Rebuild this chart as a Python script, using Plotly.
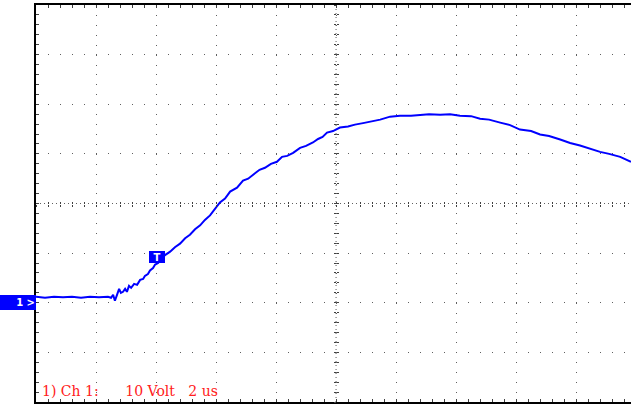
import plotly.graph_objects as go

# Time (us) and voltage (V); ground marker at 0 V
t_us = [0.0, 0.3, 0.6, 0.9, 1.2, 1.5, 1.8, 2.1, 2.4, 2.5, 2.57, 2.63, 2.7, 2.77, 2.83, 2.9,
        2.97, 3.03, 3.1, 3.17, 3.27, 3.37, 3.47, 3.57, 3.63, 3.73, 3.8, 3.9, 3.97, 4.07,
        4.13, 4.3, 4.47, 4.63, 4.8, 4.97, 5.13, 5.3, 5.47, 5.63, 5.8, 5.97, 6.13, 6.3,
        6.47, 6.7, 6.9, 7.07, 7.23, 7.45, 7.63, 7.83, 8.03, 8.2, 8.37, 8.57, 8.8, 9.0,
        9.23, 9.4, 9.55, 9.7, 9.9, 10.13, 10.4, 10.63, 10.9, 11.2, 11.47, 11.8, 12.13,
        12.5, 12.8, 13.1, 13.47, 13.8, 14.13, 14.5, 14.8, 15.1, 15.47, 15.8, 16.13, 16.5,
        16.8, 17.1, 17.47, 17.8, 18.13, 18.5, 18.8, 19.1, 19.47, 19.83]
volts = [1.2, 1.0, 1.2, 1.1, 1.2, 1.0, 1.2, 1.1, 1.2, 1.0, 1.6, 0.4, 1.6, 2.8, 2.0, 2.2,
         2.8, 2.2, 3.4, 3.0, 3.8, 3.6, 4.6, 4.8, 5.4, 5.8, 6.5, 7.0, 7.7, 8.0,
         8.5, 9.6, 10.3, 11.2, 11.9, 13.0, 13.7, 14.8, 15.6, 16.7, 17.6, 19.0, 20.2, 21.0,
         22.4, 23.2, 24.6, 25.0, 25.8, 26.8, 27.2, 28.0, 28.4, 29.4, 29.6, 30.2, 31.2, 31.6,
         32.3, 33.0, 33.4, 34.3, 34.6, 35.3, 35.5, 35.9, 36.2, 36.6, 36.9, 37.5, 37.7,
         37.7, 37.9, 38.0, 37.9, 38.0, 37.7, 37.6, 37.1, 36.9, 36.3, 35.8, 34.9, 34.6,
         33.9, 33.6, 32.9, 32.2, 31.7, 31.0, 30.4, 30.0, 29.4, 28.4]

x_max = 19.83          # visible time span (us)
x_center = 10.0        # centre graticule (us)
y_range = [-20, 60]    # 8 divisions of 10 V
y_center = 20.0
trigger_t, trigger_v = 4.03, 9.27
label_text = "1) Ch 1:" + "\u00a0" * 6 + "10 Volt\u00a0\u00a0 2 us"

BLUE = "#0000ff"
GRID = "#606060"

fig = go.Figure()
fig.add_trace(go.Scatter(x=t_us, y=volts, mode="lines",
                         line=dict(color=BLUE, width=2), hoverinfo="skip"))
# dummy traces so the centre-tick axes get drawn
for xa, ya in [("x2", "y"), ("x3", "y"), ("x", "y2"), ("x", "y3")]:
    fig.add_trace(go.Scatter(x=[None], y=[None], xaxis=xa, yaxis=ya,
                             showlegend=False, hoverinfo="skip"))

common_x = dict(range=[0, x_max], showticklabels=False, zeroline=False, fixedrange=True)
common_y = dict(range=y_range, showticklabels=False, zeroline=False, fixedrange=True)

fig.update_layout(
    width=631, height=407,
    margin=dict(l=36, r=0, t=5, b=5),
    paper_bgcolor="white", plot_bgcolor="white", showlegend=False,
    xaxis=dict(**common_x, tick0=0, dtick=2, showgrid=True, gridcolor=GRID, gridwidth=1,
               griddash="1px,8.92px", showline=True, linecolor="black", linewidth=2,
               mirror="allticks", ticks="inside", ticklen=3, tickcolor="#404040",
               minor=dict(ticks="inside", ticklen=3, dtick=0.4, tick0=0, tickcolor="#404040",
                          showgrid=False)),
    yaxis=dict(**common_y, tick0=-20, dtick=10, showgrid=True, gridcolor=GRID, gridwidth=1,
               griddash="1px,11px", showline=True, linecolor="black", linewidth=2,
               ticks="inside", ticklen=3, tickcolor="#404040",
               minor=dict(ticks="inside", ticklen=3, dtick=2, tick0=-20, tickcolor="#404040",
                          showgrid=False)),
    xaxis2=dict(**common_x, overlaying="x", anchor="free",
                position=(y_center - y_range[0]) / (y_range[1] - y_range[0]),
                showgrid=False, showline=False, ticks="outside", ticklen=2, tick0=0, dtick=0.4,
                tickcolor="#404040"),
    xaxis3=dict(**common_x, overlaying="x", anchor="free",
                position=(y_center - y_range[0]) / (y_range[1] - y_range[0]),
                showgrid=False, showline=False, ticks="inside", ticklen=2, tick0=0, dtick=0.4,
                tickcolor="#404040"),
    yaxis2=dict(**common_y, overlaying="y", anchor="free", position=x_center / x_max,
                showgrid=False, showline=False, ticks="outside", ticklen=2, tick0=-20, dtick=2,
                tickcolor="#404040"),
    yaxis3=dict(**common_y, overlaying="y", anchor="free", position=x_center / x_max,
                showgrid=False, showline=False, ticks="inside", ticklen=2, tick0=-20, dtick=2,
                tickcolor="#404040"),
)

# dense dotted centre graticule lines
fig.add_shape(type="line", xref="x", yref="paper", x0=x_center, x1=x_center, y0=0, y1=1,
              line=dict(color=GRID, width=1, dash="1px,3px"), layer="below")
fig.add_shape(type="line", xref="paper", yref="y", x0=0, x1=1, y0=y_center, y1=y_center,
              line=dict(color=GRID, width=1, dash="1px,3px"), layer="below")

# trigger marker
fig.add_annotation(x=trigger_t, y=trigger_v, xref="x", yref="y", text="<b>T</b>",
                   showarrow=False, font=dict(color="white", size=10, family="DejaVu Sans"),
                   bgcolor=BLUE, bordercolor=BLUE, borderpad=0, width=14, height=10)
# channel ground marker
fig.add_annotation(x=0, y=0, xref="paper", yref="y", xanchor="right", text="<b>1 ></b>",
                   showarrow=False, align="right",
                   font=dict(color="white", size=10, family="DejaVu Sans"),
                   bgcolor=BLUE, bordercolor=BLUE, borderpad=0, width=34, height=13)
# channel label
fig.add_annotation(x=0, y=0, xref="paper", yref="paper", xanchor="left", yanchor="bottom",
                   xshift=4, yshift=1, text=label_text, showarrow=False,
                   font=dict(color="#ff2020", size=14, family="DejaVu Serif"))

fig.write_html("out.html")
